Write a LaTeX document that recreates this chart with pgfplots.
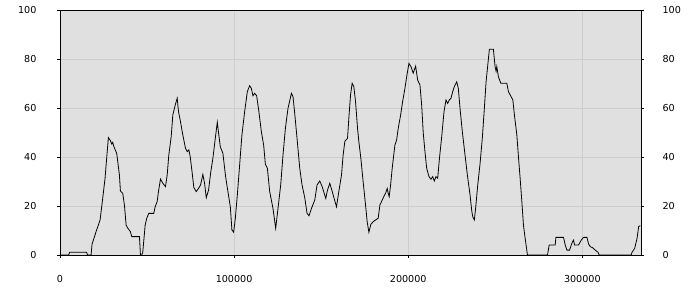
\documentclass[border=0pt]{standalone}
\usepackage{fontspec}
\setmainfont{DejaVu Sans}
\usepackage{pgfplots}
\usepackage{pgfplotstable}
\pgfplotsset{compat=1.18}
\definecolor{bggray}{HTML}{E0E0E0}
\definecolor{gridgray}{HTML}{CDCDCD}
\pgfplotstableread{
x y
0 0
5000 0
5500 1.1
15300 1.1
15800 0
17840 0
18410 4.4
20710 9.5
23020 14.3
24510 23
25890 31.4
26810 39.6
27790 47.9
28940 46.7
29690 45.3
30270 46
30840 44.5
31650 43
32570 41.5
34120 32.7
34700 26.1
36020 25.2
37000 20.4
37980 12.2
38900 11
40450 9.5
41200 7.5
45630 7.5
46210 0
46950 0
47530 1.1
48910 12.2
49830 15
50980 17
53860 17
54660 19.7
55810 21.8
56560 25.9
57710 31
59040 29.3
60590 27.9
61570 32.7
62490 40.8
63870 48.3
64790 57.1
66170 61.2
67320 64
68070 58.5
69220 54.4
70200 50.3
71120 46.9
72100 43.5
73080 42.2
74000 42.9
74800 40.1
75950 33.3
76870 27.5
78250 25.9
79580 27.2
80730 28.6
82050 32.9
83030 29.3
84010 23.4
85330 26.5
86480 33.3
87810 39.5
89190 47.6
90340 54.2
91090 49.7
92060 44.2
93560 41.5
95110 32
96440 25.9
97820 19.7
98740 10.2
99720 9.3
100700 15
101850 24.5
103170 36.7
104490 49
106050 58.5
107600 66.7
108920 69.1
109900 68
110820 65
111800 66
112950 65
114100 59.2
115660 50.3
116980 44.8
117960 37
119110 35.4
120430 25.9
122330 19
123880 10.9
125210 19
126760 28.6
128080 40.8
129460 51.7
130960 59.9
132920 66
133840 64.6
134810 57.8
136140 47.6
137690 35.4
139010 28.6
140570 23.4
141890 17
143040 16
144420 19
146320 22.4
147640 28.6
149200 30.2
150520 28
152650 23.1
153630 26.5
154950 29.3
156280 26.1
157430 23.1
158810 19.7
160140 25.9
161690 32.7
162610 40.8
163590 46.3
164160 46.9
165140 47.6
165890 55.8
166870 65.3
167790 70.1
168770 68.7
169740 62.6
170890 51.7
171640 46.3
172790 39.5
174110 29.9
175490 20.4
176420 13.6
177400 9.3
178540 12.5
179870 13.6
181250 14.3
182750 15
183730 20.4
185050 22.4
186200 24.2
187010 25.2
187930 27.2
188500 25.2
189080 23.8
189880 28.6
190800 35.4
192350 44.9
193330 46.9
194250 51.7
195630 57.1
196780 62.6
198110 68
199260 73.5
200410 78.2
201560 76.9
202880 74.2
204260 77.1
205410 71.4
206740 69.4
207720 61.2
208640 49.7
209620 42.2
210600 35.4
211920 32
213070 30.9
214050 32
214970 30.2
215950 32
216930 31.3
217850 38.8
219230 48.3
220550 58.5
221700 63.3
222680 61.9
223600 63.3
224580 64
225560 66.7
226480 68.7
227860 70.7
228780 68
229750 59.9
231080 50.3
232630 40.8
233960 32.7
235510 24.5
236490 18
237060 15.6
237980 14.3
238790 19.7
239940 28.6
241270 37.4
242590 48
243740 60
244720 70.7
245700 77.6
246620 84
248920 84
249890 76.9
250470 75
250870 76.9
251790 72.8
253180 70.1
256630 70.1
257550 66.7
259110 64.6
260080 63.3
261000 57.1
262380 49
263310 40.1
264280 31.3
265260 21.8
266180 12.2
267160 6.8
268480 0
279990 0
280970 4.1
284420 4.1
284820 7.2
289200 7.2
290170 4.1
291150 2
292650 2
294030 4.9
294950 6.1
295530 4.1
297830 4.1
299390 6.1
300700 7.2
302660 7.2
303580 4.5
304560 3.4
305880 3
307430 2
308990 1.1
309730 0
327980 0
328560 1.1
330050 2.7
331430 6.8
332350 11.6
333330 12
}\datatable
\begin{document}
\begin{tikzpicture}
\path[use as bounding box] (-60pt,-45pt) rectangle (640pt,255pt);
\pgfplotsset{
  common/.style={
    scale only axis,
    width=581pt, height=245pt,
    at={(0pt,0pt)}, anchor=south west,
    xmin=0, xmax=333700,
    ymin=0, ymax=100,
    ytick={0,20,...,100},
    tick align=outside,
    major tick length=3pt,
    tick style={black, line width=0.8pt},
    /pgf/number format/fixed,
    /pgf/number format/precision=0,
    /pgf/number format/assume math mode=true,
    /pgf/number format/1000 sep={},
    scaled x ticks=false,
    scaled y ticks=false,
    ticklabel style={font=\fontsize{9.6}{11}\selectfont, text=black},
  }
}
\begin{axis}[common,
    axis background/.style={fill=bggray},
    axis line style={black, line width=0.8pt},
    xtick={0,100000,200000,300000},
    xtick pos=bottom,
    ytick pos=left,
    grid=major,
    major grid style={gridgray, line width=0.8pt},
    xticklabel style={yshift=-14pt},
    yticklabel style={xshift=-17pt},
  ]
  \addplot[black, line width=0.8pt, mark=none] table[x=x, y=y] {\datatable};
\end{axis}
\begin{axis}[common,
    axis x line=none,
    axis y line*=right,
    axis line style={black, line width=0.8pt},
    xtick=\empty,
    yticklabel style={xshift=15pt},
  ]
\end{axis}
\end{tikzpicture}
\end{document}
